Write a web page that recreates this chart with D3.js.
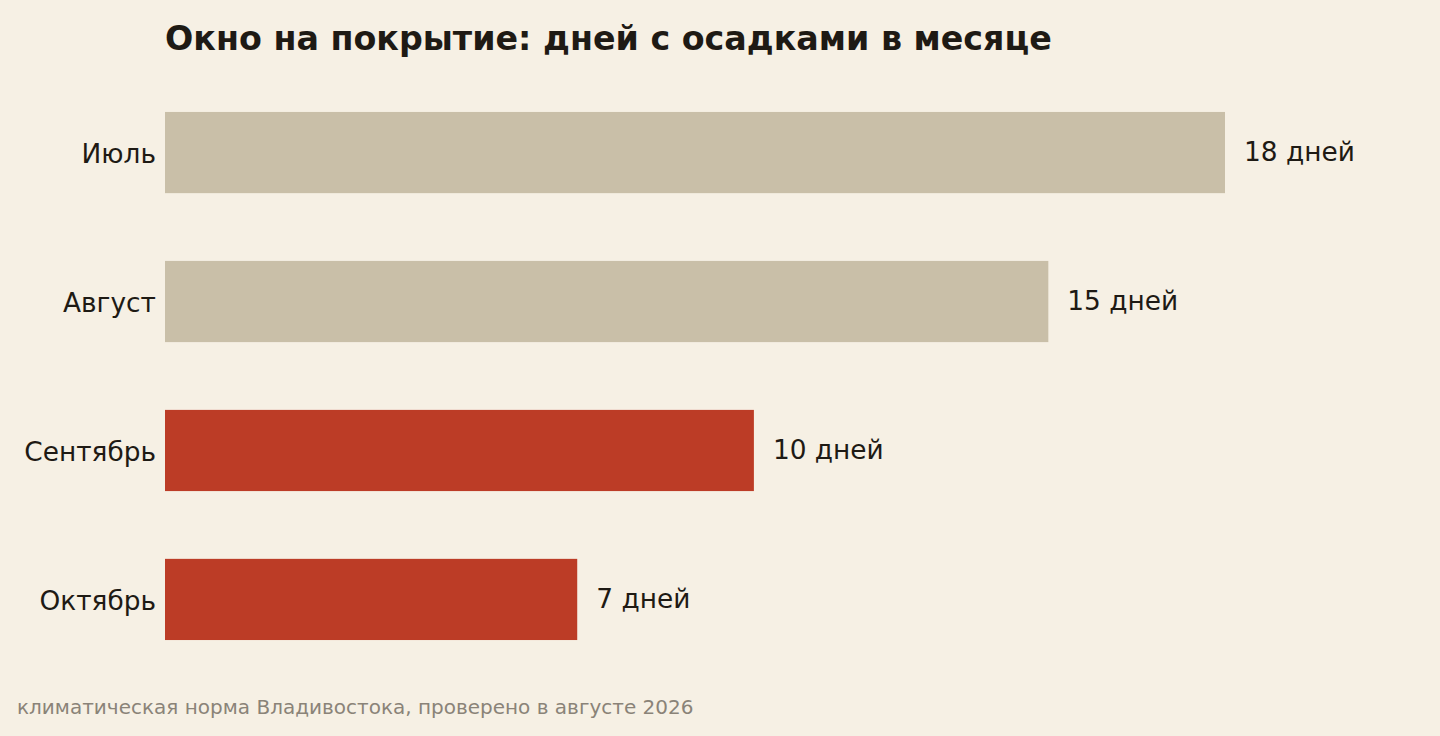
<!DOCTYPE html>
<html>
<head>
<meta charset="utf-8">
<script src="https://cdn.jsdelivr.net/npm/d3@7"></script>
<style>
  body { margin: 0; background: #f6f0e4; }
  svg { display: block; font-family: "DejaVu Sans", sans-serif; }
</style>
</head>
<body>
<svg id="chart"></svg>
<script>
// months and rainy days
var months = ['Июль', 'Август', 'Сентябрь', 'Октябрь'];
var days = [18, 15, 10, 7];
var highlight = [false, false, true, true];
var unit = 'дней';

var width = 1440, height = 736;

var svg = d3.select('#chart')
    .attr('width', width)
    .attr('height', height);

svg.append('rect')
    .attr('width', width)
    .attr('height', height)
    .attr('fill', '#f6f0e4');

var x = d3.scaleLinear()
    .domain([0, 18])
    .range([165, 1225]);

var y = d3.scaleBand()
    .domain(months)
    .range([78, 674])
    .paddingInner(0.455)
    .paddingOuter(0.228);

var data = months.map(function (m, i) {
  return {month: m, value: days[i], hot: highlight[i]};
});

svg.selectAll('rect.bar')
    .data(data)
    .enter()
    .append('rect')
    .attr('class', 'bar')
    .attr('x', x(0))
    .attr('y', function (d) { return y(d.month); })
    .attr('height', y.bandwidth())
    .attr('width', function (d) { return x(d.value) - x(0); })
    .attr('fill', function (d) { return d.hot ? '#bc3c26' : '#c9bfa8'; });

// category labels
svg.selectAll('text.cat')
    .data(data)
    .enter()
    .append('text')
    .attr('class', 'cat')
    .attr('x', x(0) - 9)
    .attr('y', function (d) { return y(d.month) + y.bandwidth() / 2 + 1; })
    .attr('dy', '0.35em')
    .attr('text-anchor', 'end')
    .attr('font-size', 26.4)
    .attr('fill', '#1e1a14')
    .text(function (d) { return d.month; });

// value labels
svg.selectAll('text.val')
    .data(data)
    .enter()
    .append('text')
    .attr('class', 'val')
    .attr('x', function (d) { return x(d.value) + 19; })
    .attr('y', function (d) { return y(d.month) + y.bandwidth() / 2 - 1; })
    .attr('dy', '0.35em')
    .attr('font-size', 26.4)
    .attr('fill', '#1e1a14')
    .text(function (d) { return d.value + ' ' + unit; });

svg.append('text')
    .attr('x', 165)
    .attr('y', 50)
    .attr('font-size', 33.3)
    .attr('font-weight', 'bold')
    .attr('fill', '#1e1a14')
    .text('Окно на покрытие: дней с осадками в месяце');

svg.append('text')
    .attr('x', 17)
    .attr('y', 714)
    .attr('font-size', 20)
    .attr('fill', '#8a8378')
    .text('климатическая норма Владивостока, проверено в августе 2026');
</script>
</body>
</html>
